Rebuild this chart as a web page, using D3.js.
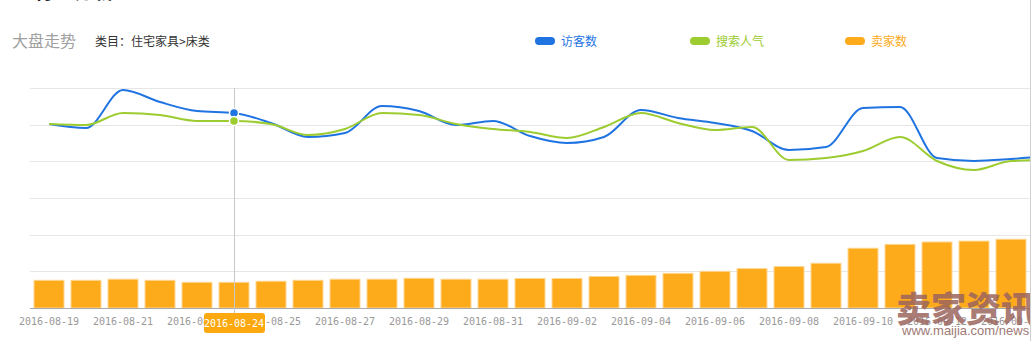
<!DOCTYPE html>
<html>
<head>
<meta charset="utf-8">
<script src="https://cdn.jsdelivr.net/npm/d3@7"></script>
<style>
  body { margin: 0; background: #fff; }
  svg { display: block; }
</style>
</head>
<body>
<div id="chart"></div>
<script>
// data
var dates = ["2016-08-19","2016-08-20","2016-08-21","2016-08-22","2016-08-23","2016-08-24","2016-08-25",
  "2016-08-26","2016-08-27","2016-08-28","2016-08-29","2016-08-30","2016-08-31","2016-09-01",
  "2016-09-02","2016-09-03","2016-09-04","2016-09-05","2016-09-06","2016-09-07","2016-09-08",
  "2016-09-09","2016-09-10","2016-09-11","2016-09-12","2016-09-13","2016-09-14","2016-09-15"];
var visitors = [2509,2455,2973,2809,2686,2659,2523,2332,2386,2755,2686,2495,2550,2345,
  2250,2332,2700,2591,2523,2414,2155,2195,2727,2741,2045,2005,2032,2073];
var searchHeat = [2509,2495,2659,2632,2550,2550,2509,2359,2441,2659,2632,2509,2441,2400,
  2318,2468,2659,2523,2427,2468,2018,2045,2141,2332,2005,1882,2005,2018];
var sellers = [151,151,157,151,140,140,146,151,157,157,162,157,157,161,
  161,172,178,189,200,215,226,244,326,347,360,365,375,380];
var legendNames = ["访客数","搜索人气","卖家数"];
var colors = ["#1f74e2","#9ccc30","#fdaa1b"];
var activeIndex = 5;

var W = 1032, H = 341;
var margin = {top: 88, left: 30, right: 2, bottom: 33};
var plotRight = 1030;

var svg = d3.select("#chart").append("svg")
  .attr("width", W).attr("height", H);

svg.append("defs").append("clipPath").attr("id", "clip")
  .append("rect").attr("x", 0).attr("y", 0).attr("width", plotRight).attr("height", H);

// heading cut off at the top of the screenshot
svg.append("text")
  .attr("x", 18).attr("y", -1)
  .style("font-family", "'Noto Sans CJK SC', sans-serif")
  .style("font-size", "20px").style("font-weight", "bold")
  .attr("fill", "#222")
  .text("1   行业分析");

svg.append("text")
  .attr("x", 12).attr("y", 47)
  .style("font-family", "'Noto Sans CJK SC', sans-serif")
  .style("font-size", "16px")
  .attr("fill", "#a0a0a0")
  .text("大盘走势");

svg.append("text")
  .attr("x", 95).attr("y", 46)
  .style("font-family", "'Noto Sans CJK SC', sans-serif")
  .style("font-size", "12px")
  .attr("fill", "#333")
  .text("类目：住宅家具>床类");

// legend
var legendX = [535, 690, 845];
var legend = svg.append("g").selectAll("g")
  .data(legendNames)
  .enter().append("g")
    .attr("transform", function(d, i) { return "translate(" + legendX[i] + ",41)"; });
legend.append("rect")
  .attr("x", 0).attr("y", -4).attr("width", 20).attr("height", 8).attr("rx", 4)
  .attr("fill", function(d, i) { return colors[i]; });
legend.append("text")
  .attr("x", 26).attr("y", 4.5)
  .style("font-family", "'Noto Sans CJK SC', sans-serif")
  .style("font-size", "12px")
  .attr("fill", function(d, i) { return colors[i]; })
  .text(function(d) { return d; });

var g = svg.append("g").attr("clip-path", "url(#clip)");

var x = d3.scaleBand()
  .domain(dates)
  .range([30.5, 30.5 + 37 * dates.length])
  .paddingInner(0.19)
  .paddingOuter(0.095);

var yLine = d3.scaleLinear().domain([0, 3000]).range([308, 88]);
var yBar = d3.scaleLinear().domain([0, 1200]).range([308, 88]);

function cx(d) { return x(d) + x.bandwidth() / 2; }

// gridlines
g.append("g").selectAll("line")
  .data(yLine.ticks(6))
  .enter().append("line")
    .attr("x1", margin.left).attr("x2", plotRight)
    .attr("y1", function(d) { return Math.round(yLine(d)) + 0.5; })
    .attr("y2", function(d) { return Math.round(yLine(d)) + 0.5; })
    .attr("stroke", "#e6e6e6");

// bars
g.append("g").selectAll("rect")
  .data(sellers)
  .enter().append("rect")
    .attr("x", function(d, i) { return x(dates[i]); })
    .attr("y", function(d) { return yBar(d); })
    .attr("width", x.bandwidth())
    .attr("height", function(d) { return 308 - yBar(d); })
    .attr("fill", colors[2])
    .attr("stroke", "#ffd68f")
    .attr("stroke-width", 1);

// x axis
var xAxis = g.append("g")
  .attr("transform", "translate(0,308)")
  .call(d3.axisBottom(x)
    .tickValues(dates.filter(function(d, i) { return i % 2 == 0; }))
    .tickSize(0).tickPadding(10));
xAxis.select(".domain").remove();
xAxis.selectAll("text")
  .attr("fill", "#999")
  .style("font-family", "'DejaVu Sans Mono', monospace")
  .style("font-size", "10px");
g.append("line")
  .attr("x1", margin.left).attr("x2", plotRight)
  .attr("y1", 308.5).attr("y2", 308.5)
  .attr("stroke", "#aaa");

// crosshair
var ax = cx(dates[activeIndex]);
g.append("line")
  .attr("x1", Math.round(ax) + 0.5).attr("x2", Math.round(ax) + 0.5)
  .attr("y1", 88).attr("y2", 314)
  .attr("stroke", "#c8c8c8");

// lines
var lineGen = function(vals) {
  return d3.line()
    .curve(d3.curveMonotoneX)
    .x(function(d, i) { return cx(dates[i]); })
    .y(function(d) { return yLine(d); })(vals);
};
[[visitors, colors[0]], [searchHeat, colors[1]]].forEach(function(s) {
  g.append("path")
    .attr("d", lineGen(s[0]))
    .attr("fill", "none")
    .attr("stroke", s[1])
    .attr("stroke-width", 2);
});

// active points
[[visitors, colors[0]], [searchHeat, colors[1]]].forEach(function(s) {
  g.append("circle")
    .attr("cx", ax).attr("cy", yLine(s[0][activeIndex]))
    .attr("r", 4.5)
    .attr("fill", s[1])
    .attr("stroke", "#fff")
    .attr("stroke-width", 1.5);
});

// axis pointer label
var lab = g.append("g").attr("transform", "translate(" + ax + ",323)");
lab.append("rect")
  .attr("x", -30).attr("y", -10).attr("width", 61).attr("height", 20).attr("rx", 3)
  .attr("fill", "#fca80f");
lab.append("text")
  .attr("text-anchor", "middle").attr("y", 4)
  .attr("fill", "#fff")
  .style("font-family", "'DejaVu Sans Mono', monospace")
  .style("font-size", "10px")
  .text(dates[activeIndex]);

// watermark
g.append("text")
  .attr("x", 896).attr("y", 322)
  .style("font-family", "'Noto Sans CJK SC', sans-serif")
  .style("font-size", "35px").style("font-weight", "900")
  .attr("fill", "#9b645d").attr("fill-opacity", 0.85)
  .text("卖家资讯");
g.append("text")
  .attr("x", 902).attr("y", 335)
  .style("font-family", "'Liberation Sans', sans-serif")
  .style("font-size", "13px")
  .attr("fill", "#a07a76")
  .text("www.maijia.com/news");

// right border of the page
svg.append("line")
  .attr("x1", 1030.5).attr("x2", 1030.5).attr("y1", 0).attr("y2", H)
  .attr("stroke", "#d0d0d0");
</script>
</body>
</html>
